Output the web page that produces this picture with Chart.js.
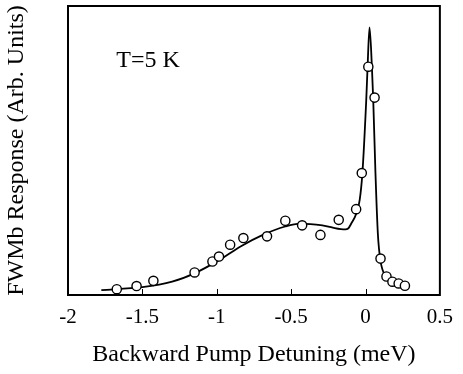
<!DOCTYPE html>
<html>
<head>
<meta charset="utf-8">
<script src="https://cdn.jsdelivr.net/npm/chart.js@4.4.1/dist/chart.umd.min.js"></script>
<style>
  html, body { margin: 0; padding: 0; background: #fff; }
  #wrap { width: 463px; height: 374px; position: relative; }
</style>
</head>
<body>
<div id="wrap"><canvas id="c" width="463" height="374"></canvas></div>
<script>
// Measured data points (detuning in meV, response in arbitrary units 0-100)
const pointX = [-1.672, -1.539, -1.426, -1.149, -1.029, -0.985, -0.910, -0.821, -0.662, -0.539, -0.426, -0.303, -0.180, -0.063, -0.025, 0.019, 0.061, 0.101, 0.141, 0.181, 0.223, 0.265];
const pointY = [2.0, 3.1, 4.9, 7.8, 11.6, 13.3, 17.4, 19.7, 20.3, 25.7, 24.1, 20.8, 26.0, 29.7, 42.2, 79.0, 68.3, 12.6, 6.4, 4.6, 4.0, 3.2];

// Fitted curve
const curveX = [-1.776, -1.5, -1.3, -1.15, -0.99, -0.84, -0.69, -0.54, -0.44, -0.29, -0.15, -0.12, -0.094, -0.061, -0.039, -0.021, 0.005, 0.014, 0.027, 0.043, 0.052, 0.067, 0.083, 0.100, 0.138, 0.216, 0.27];
const curveY = [1.7, 2.7, 4.6, 7.5, 11.9, 16.8, 20.8, 23.7, 24.7, 24.1, 22.7, 22.9, 24.9, 28.3, 32.9, 42.1, 67.5, 79.0, 92.6, 79.0, 67.5, 42.1, 21.3, 12.1, 6.3, 3.5, 2.8];

const xTicks = [-2, -1.5, -1, -0.5, 0, 0.5];
const xTitle = 'Backward Pump Detuning (meV)';
const yTitle = 'FWMb Response (Arb. Units)';
const annotation = 'T=5 K';

const SERIF = '"Liberation Serif", "Times New Roman", serif';

const frame = {
  id: 'frame',
  afterDatasetsDraw(chart) {
    const { ctx, chartArea: a, scales } = chart;
    ctx.save();
    ctx.strokeStyle = '#000';
    ctx.lineWidth = 2;
    ctx.strokeRect(a.left, a.top, a.right - a.left, a.bottom - a.top);
    ctx.lineWidth = 1;
    ctx.beginPath();
    xTicks.forEach(v => {
      const px = Math.round(scales.x.getPixelForValue(v)) + 0.5;
      if (px > a.left + 2 && px < a.right - 2) {
        ctx.moveTo(px, a.bottom);
        ctx.lineTo(px, a.bottom - 6);
      }
    });
    ctx.stroke();
    ctx.fillStyle = '#000';
    ctx.font = '24px ' + SERIF;
    ctx.textBaseline = 'alphabetic';
    ctx.textAlign = 'left';
    ctx.fillText(annotation, scales.x.getPixelForValue(-1.675), scales.y.getPixelForValue(78.9));
    ctx.restore();
  }
};

new Chart(document.getElementById('c'), {
  type: 'scatter',
  data: {
    datasets: [
      {
        label: 'data',
        data: pointX.map((x, i) => ({ x, y: pointY[i] })),
        pointStyle: 'circle',
        pointRadius: 4.6,
        pointBorderWidth: 1.4,
        pointBorderColor: '#000',
        pointBackgroundColor: '#fff',
        showLine: false,
        order: 0
      },
      {
        label: 'fit',
        data: curveX.map((x, i) => ({ x, y: curveY[i] })),
        showLine: true,
        borderColor: '#000',
        borderWidth: 1.8,
        pointRadius: 0,
        cubicInterpolationMode: 'monotone',
        fill: false,
        order: 1
      }
    ]
  },
  options: {
    responsive: false,
    animation: false,
    devicePixelRatio: 1,
    layout: { padding: { top: 6, right: 18, left: 0, bottom: 0 } },
    plugins: { legend: { display: false }, tooltip: { enabled: false } },
    scales: {
      x: {
        type: 'linear',
        min: -2, max: 0.5,
        afterBuildTicks(scale) { scale.ticks = xTicks.map(v => ({ value: v })); },
        afterFit(scale) { scale.height = 79; },
        grid: { display: false, drawTicks: false },
        border: { display: false },
        ticks: {
          color: '#000',
          padding: 10,
          font: { family: SERIF, size: 21 },
          callback: v => String(v)
        },
        title: {
          display: true,
          text: xTitle,
          color: '#000',
          font: { family: SERIF, size: 24 },
          padding: { top: 0, bottom: 5 }
        }
      },
      y: {
        type: 'linear',
        min: 0, max: 100,
        afterFit(scale) { scale.width = 68; },
        grid: { display: false, drawTicks: false },
        border: { display: false },
        ticks: { display: false },
        title: {
          display: true,
          text: yTitle,
          color: '#000',
          font: { family: SERIF, size: 24 },
          padding: { top: 2, bottom: 0 }
        }
      }
    }
  },
  plugins: [frame]
});
</script>
</body>
</html>
